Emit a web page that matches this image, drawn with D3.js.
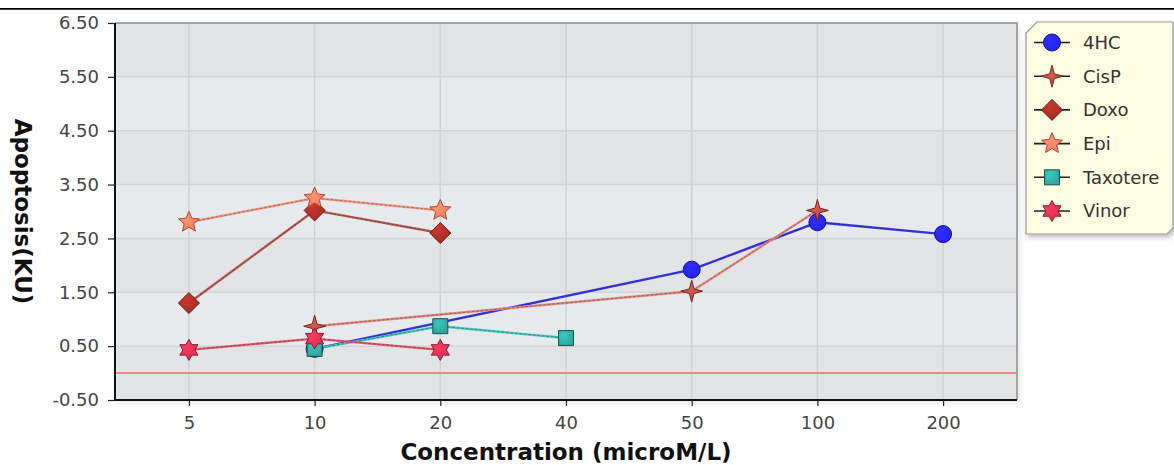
<!DOCTYPE html>
<html><head><meta charset="utf-8">
<script src="https://cdn.jsdelivr.net/npm/d3@7"></script>
<style>html,body{margin:0;padding:0;background:#fff;}svg{display:block;}</style>
</head><body>
<script>
const categories = ["5","10","20","40","50","100","200"];
const seriesNames = ["4HC","CisP","Doxo","Epi","Taxotere","Vinor"];
const hc4      = [null, 0.45, null, null, 1.92, 2.80, 2.58];
const cisp     = [null, 0.87, null, null, 1.52, 3.02, null];
const doxo     = [1.30, 3.02, 2.60, null, null, null, null];
const epi      = [2.80, 3.25, 3.02, null, null, null, null];
const taxotere = [null, 0.45, 0.87, 0.65, null, null, null];
const vinor    = [0.43, 0.64, 0.43, null, null, null, null];
const yTicks = [-0.5, 0.5, 1.5, 2.5, 3.5, 4.5, 5.5, 6.5];
const yTickLabels = ["-0.50","0.50","1.50","2.50","3.50","4.50","5.50","6.50"];
const baseline = [0];
const xTitle = "Concentration (microM/L)";
const yTitle = "Apoptosis(KU)";

const seriesValues = [hc4, cisp, doxo, epi, taxotere, vinor];
const styles = [
  {shape:"circle", fill:"#2424f0", stroke:"#14148a", line:"#3434ee"},
  {shape:"star4",  fill:"#b44a40", stroke:"#76281f", line:"#e58b80"},
  {shape:"diamond",fill:"#a52c26", stroke:"#651814", line:"#bb5a55"},
  {shape:"star5",  fill:"#f27a5c", stroke:"#b04832", line:"#f59c84"},
  {shape:"square", fill:"#2ea39b", stroke:"#155450", line:"#48cbc4"},
  {shape:"star6",  fill:"#d9304f", stroke:"#8c1a30", line:"#e45a72"}
];

const W = 1174, H = 465;
const M = {left:115, right:1017, top:23, bottom:400};

const svg = d3.select("body").append("svg").attr("width", W).attr("height", H)
  .style("font-family", "'DejaVu Sans', sans-serif");

const defs = svg.append("defs");
const f = defs.append("filter").attr("id","shadow").attr("x","-10%").attr("y","-10%").attr("width","130%").attr("height","130%");
f.append("feDropShadow").attr("dx",2).attr("dy",3).attr("stdDeviation",2.5).attr("flood-color","#000").attr("flood-opacity",0.25);
const f2 = defs.append("filter").attr("id","pshadow").attr("x","-5%").attr("y","-5%").attr("width","110%").attr("height","110%");
f2.append("feDropShadow").attr("dx",2).attr("dy",2).attr("stdDeviation",3).attr("flood-color","#000").attr("flood-opacity",0.12);

styles.forEach((s,i)=>{
  const g = defs.append("radialGradient").attr("id","grad"+i).attr("cx","35%").attr("cy","30%").attr("r","75%");
  g.append("stop").attr("offset","0%").attr("stop-color", d3.color(s.fill).brighter(0.6));
  g.append("stop").attr("offset","100%").attr("stop-color", s.fill);
});

// top rule
svg.append("line").attr("x1",0).attr("x2",W).attr("y1",8.8).attr("y2",8.8).attr("stroke","#000").attr("stroke-width",1.8);

const x = d3.scalePoint().domain(categories).range([M.left, M.right]).padding(0.588);
const y = d3.scaleLinear().domain([-0.5, 6.5]).range([M.bottom, M.top]);

// plot background
svg.append("rect").attr("x",M.left).attr("y",M.top).attr("width",M.right-M.left).attr("height",M.bottom-M.top)
  .attr("fill","#e3e4e6").attr("filter","url(#pshadow)");
const bands = yTicks.slice(0,-1);
svg.append("g").selectAll("rect").data(bands).join("rect")
  .attr("x",M.left).attr("width",M.right-M.left)
  .attr("y",d=>y(d+1)).attr("height",d=>y(d)-y(d+1))
  .attr("fill",(d,i)=> ((bands.length-1-i)%2===0) ? "#e2e3e5" : "#e7eaed");

// gridlines
svg.append("g").selectAll("line").data(yTicks.slice(1,-1)).join("line")
  .attr("x1",M.left).attr("x2",M.right).attr("y1",d=>y(d)).attr("y2",d=>y(d))
  .attr("stroke","#d3d4d6").attr("stroke-width",1.5);
svg.append("g").selectAll("line").data(categories).join("line")
  .attr("x1",d=>x(d)).attr("x2",d=>x(d)).attr("y1",M.top).attr("y2",M.bottom)
  .attr("stroke","#d0d1d3").attr("stroke-width",1.5);

// borders top/right
svg.append("path").attr("d",`M${M.left},${M.top}H${M.right}V${M.bottom}`).attr("fill","none").attr("stroke","#8e8e8e").attr("stroke-width",1.5);

// zero line
svg.append("g").selectAll("line").data(baseline).join("line")
  .attr("x1",M.left).attr("x2",M.right).attr("y1",d=>y(d)).attr("y2",d=>y(d))
  .attr("stroke","#e88a8c").attr("stroke-width",2);

// axes
const yAxis = svg.append("g").attr("transform",`translate(${M.left},0)`)
  .call(d3.axisLeft(y).tickValues(yTicks).tickFormat((d,i)=>yTickLabels[i]).tickSize(7).tickPadding(9));
const xAxis = svg.append("g").attr("transform",`translate(0,${M.bottom})`)
  .call(d3.axisBottom(x).tickSize(6).tickPadding(10));
[yAxis,xAxis].forEach(a=>{
  a.select(".domain").attr("stroke","#111").attr("stroke-width",2);
  a.selectAll(".tick line").attr("stroke","#222").attr("stroke-width",1.2);
  a.selectAll(".tick text").attr("fill","#454545").style("font-size","18px").style("font-family","'DejaVu Sans', sans-serif");
});
xAxis.select(".domain").attr("d",`M${M.left},0H${M.right}`);
yAxis.select(".domain").attr("d",`M0,${M.top}V${M.bottom}`);

// titles
svg.append("text").attr("x",(M.left+M.right)/2).attr("y",460).attr("text-anchor","middle")
  .style("font-weight","bold").style("font-size","23px").attr("fill","#111").text(xTitle);
svg.append("text").attr("transform",`translate(15,${(M.top+M.bottom)/2}) rotate(90)`).attr("text-anchor","middle")
  .style("font-weight","bold").style("font-size","23px").attr("fill","#111").text(yTitle);

function starPath(n, R, r){
  const pts=[];
  for(let k=0;k<2*n;k++){
    const a = -Math.PI/2 + k*Math.PI/n;
    const rad = k%2===0 ? R : r;
    pts.push([rad*Math.cos(a), rad*Math.sin(a)]);
  }
  return "M"+pts.map(p=>p[0].toFixed(2)+","+p[1].toFixed(2)).join("L")+"Z";
}
function shapePath(shape){
  switch(shape){
    case "circle": return "M-8.5,0A8.5,8.5 0 1,0 8.5,0A8.5,8.5 0 1,0 -8.5,0Z";
    case "square": return "M-7.5,-7.5H7.5V7.5H-7.5Z";
    case "diamond": return "M0,-10.5L10.5,0L0,10.5L-10.5,0Z";
    case "star4": return starPath(4, 11, 3.3);
    case "star5": return starPath(5, 11, 5);
    case "star6": return starPath(6, 10.5, 6);
  }
}

const line = d3.line().x(d=>x(d.c)).y(d=>y(d.v));
const gLines = svg.append("g");
const gMarks = svg.append("g");
seriesValues.forEach((vals,i)=>{
  const pts = categories.map((c,j)=>({c, v: vals[j]})).filter(d=>d.v!==null);
  const s = styles[i];
  gLines.append("path").attr("d",line(pts)).attr("fill","none").attr("stroke",s.line).attr("stroke-width",2.4);
  gLines.append("path").attr("d",line(pts)).attr("fill","none").attr("stroke","#3a2a2a").attr("stroke-opacity",0.55).attr("stroke-width",0.8)
    .attr("stroke-dasharray","3,1.5");
  gMarks.append("g").selectAll("path").data(pts).join("path")
    .attr("transform",d=>`translate(${x(d.c)},${y(d.v)})`)
    .attr("d",shapePath(s.shape)).attr("fill",`url(#grad${i})`).attr("stroke",s.stroke).attr("stroke-width",1);
});

// legend
const L = {x0:1026, x1:1173, y0:22, y1:234};
svg.append("path")
  .attr("d",`M${L.x0+11},${L.y0}H${L.x1}V${L.y1-6}L${L.x1-6},${L.y1}H${L.x0}V${L.y0+11}Z`)
  .attr("fill","#fdfde2").attr("stroke","#9a9a9a").attr("stroke-width",1.2).attr("filter","url(#shadow)");
const leg = svg.append("g").selectAll("g").data(seriesNames).join("g")
  .attr("transform",(d,i)=>`translate(1052,${42.5+i*33.7})`);
leg.append("line").attr("x1",-18).attr("x2",18).attr("stroke","#222").attr("stroke-width",1.6);
leg.append("path").attr("d",(d,i)=>shapePath(styles[i].shape)).attr("fill",(d,i)=>`url(#grad${i})`).attr("stroke",(d,i)=>styles[i].stroke).attr("stroke-width",1);
leg.append("text").attr("x",31).attr("dy","0.36em").style("font-size","18px").attr("fill","#333").text(d=>d);
</script>
</body></html>
